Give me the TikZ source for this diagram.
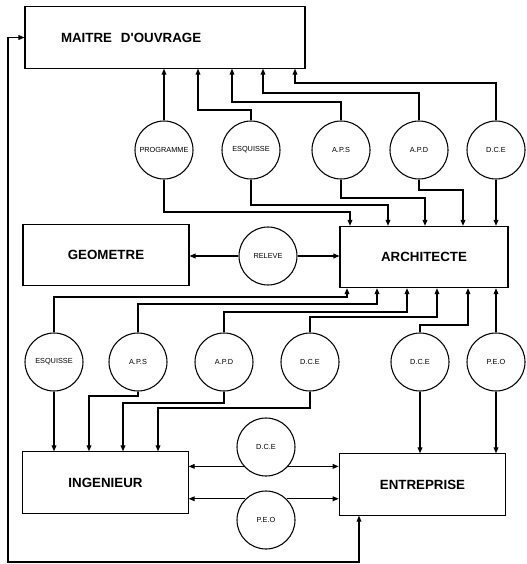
\documentclass[tikz,border=0pt]{standalone}
\usepackage{fontspec}
\setmainfont{Liberation Sans}
\usetikzlibrary{arrows.meta}

\begin{document}
\begin{tikzpicture}[x=0.75pt, y=-0.75pt, line width=0.8pt,
    acteur/.style={draw, rectangle, minimum height=46pt, font=\fontsize{10}{12}\selectfont\bfseries},
    piece/.style={draw, circle, minimum size=43.5pt, inner sep=0pt, font=\fontsize{5.5}{6}\selectfont},
    flux/.style={-{Triangle[length=4.5pt, width=3.6pt]}}]
    \useasboundingbox (0,0) rectangle (526,564);

    % les acteurs
    \node[acteur, minimum width=210pt, text width=156pt, inner xsep=27pt, align=left] (mo) at (165,37.5) {MAITRE\ \ D\textquotesingle OUVRAGE};
    \node[acteur, minimum width=124.5pt] (geo) at (106,255) {GEOMETRE};
    \node[acteur, minimum width=126pt] (arch) at (424,257) {ARCHITECTE};
    \node[acteur, minimum width=124pt] (ing) at (105.5,482.5) {INGENIEUR};
    \node[acteur, minimum width=125pt] (ent) at (422.5,484.5) {ENTREPRISE};

    % les documents
    \foreach \n/\x/\t in {prog/164/PROGRAMME, esqa/251/ESQUISSE, apsa/341/A.P.S, apda/419/A.P.D, dcea/496/D.C.E}
      \node[piece] (\n) at (\x,150) {\t};
    \node[piece] (rel) at (268,256) {RELEVE};
    \foreach \n/\x/\t in {esqb/54/ESQUISSE, apsb/138/A.P.S, apdb/224/A.P.D, dceb/310/D.C.E, dcec/420/D.C.E, peoa/496/P.E.O}
      \node[piece] (\n) at (\x,362) {\t};
    \node[piece] (dced) at (266,447) {D.C.E};
    \node[piece] (peob) at (266,520) {P.E.O};

    % vers le maitre d'ouvrage
    \draw[flux] (prog.north) -- (prog.north |- mo.south);
    \foreach \n/\x/\y in {esqa/198/110, apsa/232/102, apda/263/93, dcea/295/83}
      \draw[flux] (\n.north) |- (\x,\y) -- (\x,0 |- mo.south);

    % vers l'architecte
    \foreach \n/\x/\y in {prog/350/212, esqa/388/205, apsa/425/198, apda/463/190}
      \draw[flux] (\n.south) |- (\x,\y) -- (\x,0 |- arch.north);
    \draw[flux] (dcea.south) -- (dcea.south |- arch.north);
    \foreach \n/\x/\y in {esqb/347/297, apsb/377/304, apdb/407/312, dceb/437/317, dcec/468/325}
      \draw[flux] (\n.north) |- (\x,\y) -- (\x,0 |- arch.south);
    \draw[flux] (peoa.north) -- (peoa.north |- arch.south);

    % releve
    \draw[flux] (rel.west) -- (geo.east |- rel.west);
    \draw[flux] (rel.east) -- (arch.west |- rel.east);

    % vers l'ingenieur et l'entreprise
    \draw[flux] (esqb.south) -- (esqb.south |- ing.north);
    \foreach \n/\x/\y in {apsb/89/396, apdb/123/403, dceb/158/408}
      \draw[flux] (\n.south) |- (\x,\y) -- (\x,0 |- ing.north);
    \draw[flux] (dcec.south) -- (dcec.south |- ent.north);
    \draw[flux] (peoa.south) -- (peoa.south |- ent.north);

    % echanges ingenieur / entreprise
    \draw[flux] (dced.221) -- (ing.east |- dced.221);
    \draw[flux] (dced.-41) -- (ent.west |- dced.-41);
    \draw[flux] (peob.134) -- (ing.east |- peob.134);
    \draw[flux] (peob.46) -- (ent.west |- peob.46);

    % retour
    \draw[{Triangle[length=4.5pt, width=3.6pt]}-{Triangle[length=4.5pt, width=3.6pt]}]
      (ent.south -| 359,0) -- (359,562) -- (8,562) -- (8,37.5) -- (mo.west);
\end{tikzpicture}
\end{document}
